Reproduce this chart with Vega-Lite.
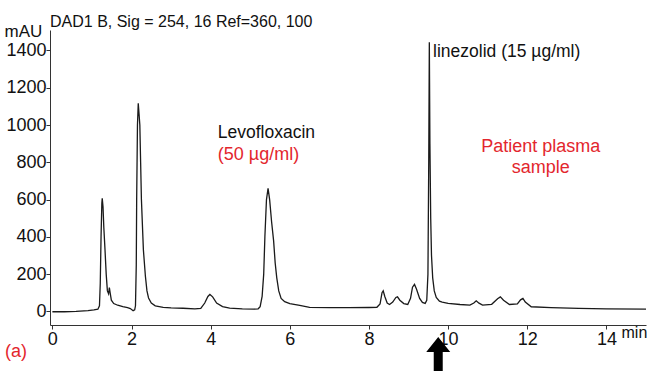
{
  "$schema": "https://vega.github.io/schema/vega-lite/v6.json",
  "width": 596,
  "height": 295,
  "autosize": "none",
  "padding": {"left": 50, "top": 30, "right": 4, "bottom": 46},
  "background": "white",
  "config": {"view": {"stroke": null}, "font": "Liberation Sans"},
  "title": {"text": "DAD1 B, Sig = 254, 16 Ref=360, 100", "anchor": "start", "frame": "group", "fontSize": 16, "fontWeight": "normal", "color": "#111", "offset": 0, "dy": 8, "font": "Liberation Sans"},
  "datasets": {
    "trace": [
      {"t": 0, "mAU": -2}, {"t": 0.3, "mAU": -2}, {"t": 0.6, "mAU": 0}, {"t": 0.9, "mAU": 4}, {"t": 1.05, "mAU": 8}, {"t": 1.15, "mAU": 12},
      {"t": 1.19, "mAU": 30}, {"t": 1.21, "mAU": 150}, {"t": 1.23, "mAU": 400}, {"t": 1.25, "mAU": 580}, {"t": 1.26, "mAU": 607}, {"t": 1.28, "mAU": 560},
      {"t": 1.30, "mAU": 450}, {"t": 1.33, "mAU": 330}, {"t": 1.36, "mAU": 200}, {"t": 1.39, "mAU": 110}, {"t": 1.42, "mAU": 95}, {"t": 1.44, "mAU": 128},
      {"t": 1.46, "mAU": 100}, {"t": 1.49, "mAU": 60}, {"t": 1.55, "mAU": 42}, {"t": 1.65, "mAU": 33}, {"t": 1.78, "mAU": 25}, {"t": 1.9, "mAU": 20},
      {"t": 1.97, "mAU": 15}, {"t": 2.04, "mAU": 4}, {"t": 2.08, "mAU": 8}, {"t": 2.10, "mAU": 30}, {"t": 2.12, "mAU": 250}, {"t": 2.13, "mAU": 600},
      {"t": 2.15, "mAU": 1000}, {"t": 2.17, "mAU": 1117}, {"t": 2.19, "mAU": 1060}, {"t": 2.21, "mAU": 1000}, {"t": 2.23, "mAU": 800}, {"t": 2.25, "mAU": 600},
      {"t": 2.30, "mAU": 330}, {"t": 2.35, "mAU": 190}, {"t": 2.39, "mAU": 110}, {"t": 2.43, "mAU": 72}, {"t": 2.50, "mAU": 45}, {"t": 2.6, "mAU": 30},
      {"t": 2.8, "mAU": 22}, {"t": 3.0, "mAU": 19}, {"t": 3.3, "mAU": 17}, {"t": 3.6, "mAU": 14}, {"t": 3.75, "mAU": 16}, {"t": 3.85, "mAU": 45},
      {"t": 3.93, "mAU": 80}, {"t": 3.98, "mAU": 91}, {"t": 4.05, "mAU": 78}, {"t": 4.15, "mAU": 45}, {"t": 4.3, "mAU": 26}, {"t": 4.48, "mAU": 17},
      {"t": 4.8, "mAU": 13}, {"t": 5.1, "mAU": 12}, {"t": 5.2, "mAU": 14}, {"t": 5.25, "mAU": 25}, {"t": 5.30, "mAU": 80}, {"t": 5.34, "mAU": 200},
      {"t": 5.37, "mAU": 400}, {"t": 5.41, "mAU": 600}, {"t": 5.45, "mAU": 660}, {"t": 5.49, "mAU": 600}, {"t": 5.54, "mAU": 480}, {"t": 5.59, "mAU": 380},
      {"t": 5.63, "mAU": 260}, {"t": 5.67, "mAU": 180}, {"t": 5.72, "mAU": 110}, {"t": 5.78, "mAU": 70}, {"t": 5.87, "mAU": 52}, {"t": 6.0, "mAU": 42},
      {"t": 6.25, "mAU": 32}, {"t": 6.5, "mAU": 22}, {"t": 7.0, "mAU": 20}, {"t": 7.5, "mAU": 20}, {"t": 8.0, "mAU": 21}, {"t": 8.2, "mAU": 22},
      {"t": 8.28, "mAU": 40}, {"t": 8.33, "mAU": 100}, {"t": 8.36, "mAU": 110}, {"t": 8.40, "mAU": 80}, {"t": 8.46, "mAU": 45}, {"t": 8.52, "mAU": 37},
      {"t": 8.60, "mAU": 50}, {"t": 8.68, "mAU": 75}, {"t": 8.72, "mAU": 78}, {"t": 8.78, "mAU": 60}, {"t": 8.88, "mAU": 42}, {"t": 8.98, "mAU": 37},
      {"t": 9.05, "mAU": 70}, {"t": 9.1, "mAU": 130}, {"t": 9.15, "mAU": 145}, {"t": 9.2, "mAU": 120}, {"t": 9.28, "mAU": 70}, {"t": 9.35, "mAU": 48},
      {"t": 9.42, "mAU": 43}, {"t": 9.46, "mAU": 60}, {"t": 9.49, "mAU": 200}, {"t": 9.51, "mAU": 800}, {"t": 9.525, "mAU": 1444}, {"t": 9.54, "mAU": 900},
      {"t": 9.56, "mAU": 500}, {"t": 9.58, "mAU": 300}, {"t": 9.61, "mAU": 180}, {"t": 9.65, "mAU": 110}, {"t": 9.70, "mAU": 75}, {"t": 9.78, "mAU": 55},
      {"t": 9.85, "mAU": 50}, {"t": 10.0, "mAU": 43}, {"t": 10.3, "mAU": 37}, {"t": 10.55, "mAU": 34}, {"t": 10.65, "mAU": 45}, {"t": 10.71, "mAU": 57},
      {"t": 10.78, "mAU": 44}, {"t": 10.87, "mAU": 34}, {"t": 11.1, "mAU": 38}, {"t": 11.25, "mAU": 68}, {"t": 11.32, "mAU": 78}, {"t": 11.4, "mAU": 60},
      {"t": 11.55, "mAU": 37}, {"t": 11.75, "mAU": 40}, {"t": 11.83, "mAU": 62}, {"t": 11.89, "mAU": 70}, {"t": 11.95, "mAU": 50}, {"t": 12.1, "mAU": 25},
      {"t": 12.6, "mAU": 20}, {"t": 13.3, "mAU": 16}, {"t": 14.0, "mAU": 14}, {"t": 15.0, "mAU": 12}
    ],
    "notes": [
      {"t": 4.18, "mAU": 957, "label": "Levofloxacin", "group": "black"},
      {"t": 9.62, "mAU": 1394, "label": "linezolid (15 µg/ml)", "group": "black"},
      {"t": 4.18, "mAU": 839, "label": "(50 µg/ml)", "group": "redleft"},
      {"t": -1.2, "mAU": -218, "label": "(a)", "group": "redleft"},
      {"t": 12.34, "mAU": 884, "label": "Patient plasma", "group": "redcenter"},
      {"t": 12.34, "mAU": 768, "label": "sample", "group": "redcenter"}
    ],
    "arrow": [{"t": 9.75, "mAU": -229}]
  },
  "layer": [
    {
      "data": {"name": "trace"},
      "mark": {"type": "line", "color": "#1a1a1a", "strokeWidth": 1.3, "interpolate": "linear"},
      "encoding": {
        "x": {"field": "t", "type": "quantitative",
          "scale": {"domain": [-0.06, 15], "nice": false, "zero": false},
          "axis": {
            "values": [0,0.5,1,1.5,2,2.5,3,3.5,4,4.5,5,5.5,6,6.5,7,7.5,8,8.5,9,9.5,10,10.5,11,11.5,12,12.5,13,13.5,14,14.5,15],
            "labelExpr": "datum.value % 2 === 0 && datum.value <= 14 ? '' + datum.value : ''",
            "title": "min", "titleFontSize": 16, "titleFontWeight": "normal", "titleAlign": "left", "titleAnchor": null,
            "titleX": 571, "titleY": 7, "titleBaseline": "middle", "titleColor": "#111",
            "labelFontSize": 18, "labelColor": "#111", "labelPadding": 1, "labelFlush": false,
            "tickSize": 4, "tickColor": "#333", "domainColor": "#333", "grid": false, "labelOverlap": false
          }
        },
        "y": {"field": "mAU", "type": "quantitative",
          "scale": {"domain": [-73, 1510], "nice": false, "zero": false},
          "axis": {
            "values": [0,50,100,150,200,250,300,350,400,450,500,550,600,650,700,750,800,850,900,950,1000,1050,1100,1150,1200,1250,1300,1350,1400,1450,1500],
            "labelExpr": "datum.value % 200 === 0 ? '' + datum.value : ''",
            "title": "mAU", "titleAngle": 0, "titleFontSize": 17, "titleFontWeight": "normal", "titleAlign": "left", "titleAnchor": null,
            "titleX": -46, "titleY": 1, "titleBaseline": "middle", "titleColor": "#111",
            "labelFontSize": 18, "labelColor": "#111", "labelPadding": 0, "labelFlush": false,
            "tickSize": 4, "tickColor": "#333", "domainColor": "#333", "grid": false, "labelOverlap": false
          }
        }
      }
    },
    {
      "data": {"name": "notes"},
      "transform": [{"filter": "datum.group === 'black'"}],
      "mark": {"type": "text", "align": "left", "baseline": "middle", "fontSize": 17.5, "color": "#111"},
      "encoding": {"x": {"field": "t", "type": "quantitative"}, "y": {"field": "mAU", "type": "quantitative"}, "text": {"field": "label"}}
    },
    {
      "data": {"name": "notes"},
      "transform": [{"filter": "datum.group === 'redleft'"}],
      "mark": {"type": "text", "align": "left", "baseline": "middle", "fontSize": 18, "color": "#e3262d"},
      "encoding": {"x": {"field": "t", "type": "quantitative"}, "y": {"field": "mAU", "type": "quantitative"}, "text": {"field": "label"}}
    },
    {
      "data": {"name": "notes"},
      "transform": [{"filter": "datum.group === 'redcenter'"}],
      "mark": {"type": "text", "align": "center", "baseline": "middle", "fontSize": 18, "color": "#e3262d"},
      "encoding": {"x": {"field": "t", "type": "quantitative"}, "y": {"field": "mAU", "type": "quantitative"}, "text": {"field": "label"}}
    },
    {
      "data": {"name": "arrow"},
      "mark": {"type": "point", "filled": true, "color": "black", "opacity": 1, "size": 1600,
        "shape": "M0,-0.85L0.6,-0.1L0.225,-0.1L0.225,1.2L-0.225,1.2L-0.225,-0.1L-0.6,-0.1Z"},
      "encoding": {"x": {"field": "t", "type": "quantitative"}, "y": {"field": "mAU", "type": "quantitative"}}
    }
  ]
}
